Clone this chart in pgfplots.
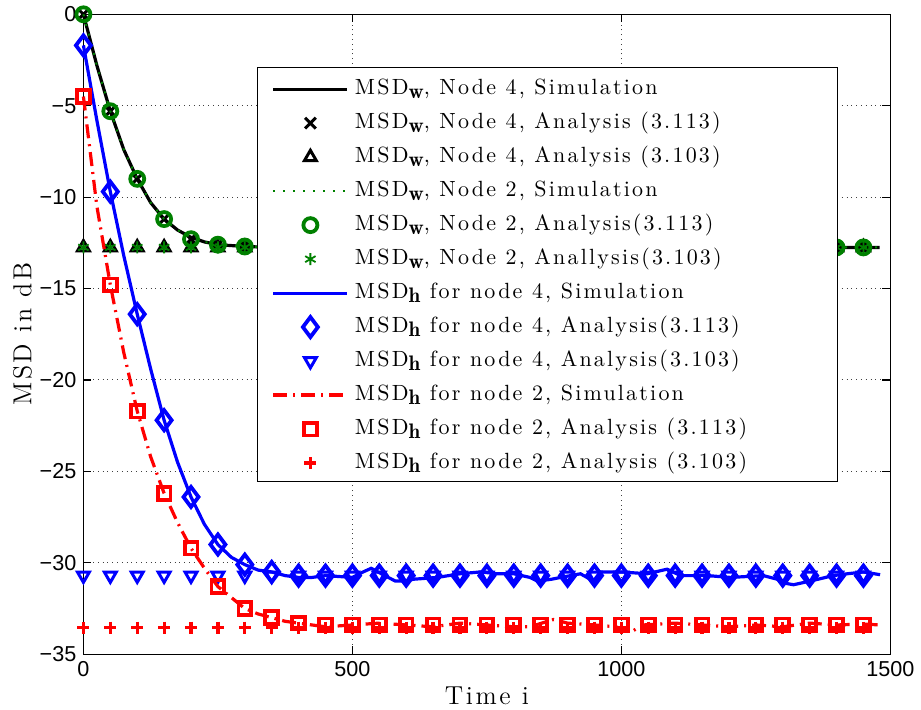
\documentclass[border=0pt]{standalone}
\usepackage{fontspec}
\usepackage{pgfplots}
\usepackage{pgfplotstable}
\pgfplotsset{compat=1.18}
\newfontfamily\tickfont{Liberation Sans}
\newfontfamily\lsfont{Latin Modern Roman}[LetterSpace=10]
\definecolor{mgreen}{rgb}{0,0.5,0}
\newcommand{\sub}[1]{\raisebox{-0.45ex}{\fontsize{10.5}{12}\selectfont$\mathbf{#1}$}}
\newcommand{\leg}[1]{\makebox[200pt][l]{\lsfont\fontsize{11}{13}\selectfont #1}}
\pgfplotsset{longleg/.style={legend image code/.code={\draw[mark repeat=2,mark phase=2,##1] plot coordinates {(0pt,0pt) (18.5pt,0pt) (37pt,0pt)};}}}

\pgfplotstableread{
x w wc h4 h4c h2 h2c
0 0 -12.75 -1.7 -30.7 -4.5 -33.55
50 -5.3 -12.75 -9.7 -30.7 -14.8 -33.55
100 -9.0 -12.75 -16.4 -30.7 -21.7 -33.55
150 -11.2 -12.75 -22.2 -30.7 -26.2 -33.55
200 -12.3 -12.75 -26.4 -30.7 -29.2 -33.55
250 -12.6 -12.75 -29.0 -30.7 -31.3 -33.55
300 -12.7 -12.75 -30.1 -30.7 -32.5 -33.55
350 -12.75 -12.75 -30.5 -30.7 -33.0 -33.55
400 -12.75 -12.75 -30.7 -30.7 -33.3 -33.55
450 -12.75 -12.75 -30.7 -30.7 -33.4 -33.55
500 -12.75 -12.75 -30.7 -30.7 -33.4 -33.55
550 -12.75 -12.75 -30.7 -30.7 -33.4 -33.55
600 -12.75 -12.75 -30.7 -30.7 -33.4 -33.55
650 -12.75 -12.75 -30.7 -30.7 -33.4 -33.55
700 -12.75 -12.75 -30.7 -30.7 -33.4 -33.55
750 -12.75 -12.75 -30.7 -30.7 -33.4 -33.55
800 -12.75 -12.75 -30.7 -30.7 -33.4 -33.55
850 -12.75 -12.75 -30.7 -30.7 -33.4 -33.55
900 -12.75 -12.75 -30.7 -30.7 -33.4 -33.55
950 -12.75 -12.75 -30.7 -30.7 -33.4 -33.55
1000 -12.75 -12.75 -30.7 -30.7 -33.4 -33.55
1050 -12.75 -12.75 -30.7 -30.7 -33.4 -33.55
1100 -12.75 -12.75 -30.7 -30.7 -33.4 -33.55
1150 -12.75 -12.75 -30.7 -30.7 -33.4 -33.55
1200 -12.75 -12.75 -30.7 -30.7 -33.4 -33.55
1250 -12.75 -12.75 -30.7 -30.7 -33.4 -33.55
1300 -12.75 -12.75 -30.7 -30.7 -33.4 -33.55
1350 -12.75 -12.75 -30.7 -30.7 -33.4 -33.55
1400 -12.75 -12.75 -30.7 -30.7 -33.4 -33.55
1450 -12.75 -12.75 -30.7 -30.7 -33.4 -33.55
}\marktab

\pgfplotstableread{
x y
0 0
25 -2.8
50 -5.3
75 -7.4
100 -9.0
125 -10.3
150 -11.2
175 -11.8
200 -12.2
225 -12.45
250 -12.6
275 -12.65
300 -12.7
350 -12.75
500 -12.75
700 -12.75
900 -12.75
1100 -12.75
1300 -12.75
1480 -12.75
}\wsim

\pgfplotstableread{
x y
0 -1.7
25 -5.8
50 -9.7
75 -13.2
100 -16.4
125 -19.4
150 -22.2
175 -24.5
200 -26.4
225 -27.9
250 -29.0
275 -29.7
300 -30.1
325 -30.4
350 -30.5
375 -30.7
400 -30.8
425 -30.8
450 -30.7
475 -30.75
500 -30.8
520 -30.5
535 -30.3
560 -30.7
580 -31.0
600 -31.0
613 -30.9
658 -30.8
700 -30.6
738 -30.5
770 -30.6
800 -30.6
830 -30.8
844 -31.0
870 -30.9
887 -30.8
924 -30.6
948 -31.0
961 -30.5
1000 -30.5
1048 -30.6
1085 -30.35
1110 -30.7
1160 -30.7
1203 -30.8
1264 -30.7
1290 -30.9
1301 -31.1
1320 -31.2
1351 -31.0
1394 -30.7
1420 -30.6
1450 -30.5
1481 -30.65
}\hfour

\pgfplotstableread{
x y
0 -4.5
25 -10.5
50 -14.8
75 -18.5
100 -21.7
125 -24.2
150 -26.2
175 -27.8
200 -29.2
225 -30.3
250 -31.3
275 -31.9
300 -32.5
325 -32.8
350 -33.0
375 -33.2
400 -33.3
450 -33.5
500 -33.4
550 -33.3
600 -33.4
650 -33.5
700 -33.3
750 -33.4
800 -33.5
830 -33.5
874 -33.1
900 -33.3
950 -33.4
990 -33.5
1017 -33.8
1040 -33.4
1100 -33.3
1150 -33.4
1200 -33.5
1250 -33.4
1300 -33.5
1350 -33.3
1400 -33.4
1450 -33.35
1481 -33.4
}\htwo

\begin{document}
\begin{tikzpicture}
\begin{axis}[
  scale only axis, width=403.5pt, height=320pt,
  xmin=0, xmax=1500, ymin=-35, ymax=0,
  clip=false, clip marker paths=true,
  xtick={0,500,1000,1500}, xticklabels={0,500,1000,1500},
  ytick={-35,-30,-25,-20,-15,-10,-5,0},
  yticklabels={−35,−30,−25,−20,−15,−10,−5,0},
  tick align=inside, major tick length=4pt,
  grid=major, grid style={dotted, black!75, line width=0.5pt},
  axis line style={line width=0.7pt},
  tick style={line width=0.6pt, black},
  ticklabel style={font=\tickfont\fontsize{10.8}{12}\selectfont},
  xlabel={Time i}, ylabel={MSD in dB},
  label style={font=\lsfont\fontsize{13}{15}\selectfont},
  xlabel style={at={(axis description cs:0.5,-0.0656)}, anchor=center, inner ysep=2pt},
  ylabel style={at={(axis description cs:-0.0756,0.5)}, anchor=center, inner ysep=6.5pt},
  legend cell align=left,
  legend style={at={(0.2156,0.9165)}, anchor=north west, draw=none, fill=none,
    inner xsep=7pt, inner ysep=2pt,
    nodes={text height=8pt, text depth=3pt, inner ysep=3pt, inner xsep=3pt}},
]
\addplot[black, line width=1.6pt, longleg] table[x=x,y=y] {\wsim};
\addlegendentry{\leg{MSD\sub{w}, Node 4, Simulation}}
\addplot[black, only marks, mark=x, mark size=3.8pt, line width=1.5pt, longleg] table[x=x,y=w] {\marktab};
\addlegendentry{\leg{MSD\sub{w}, Node 4, Analysis (3.113)}}
\addplot[black, only marks, mark=triangle, mark size=3.4pt, line width=1.5pt, longleg] table[x=x,y=wc] {\marktab};
\addlegendentry{\leg{MSD\sub{w}, Node 4, Analysis (3.103)}}
\addplot[mgreen, line width=1pt, dash pattern=on 1pt off 4pt, longleg] table[x=x,y=y] {\wsim};
\addlegendentry{\leg{MSD\sub{w}, Node 2, Simulation}}
\addplot[mgreen, only marks, mark=o, mark size=3.5pt, line width=1.9pt, longleg] table[x=x,y=w] {\marktab};
\addlegendentry{\leg{MSD\sub{w}, Node 2, Analysis(3.113)}}
\addplot[mgreen, only marks, mark=asterisk, mark size=3pt, line width=0.9pt, longleg] table[x=x,y=wc] {\marktab};
\addlegendentry{\leg{MSD\sub{w}, Node 2, Anallysis(3.103)}}
\addplot[blue, line width=1.6pt, longleg] table[x=x,y=y] {\hfour};
\addlegendentry{\leg{MSD\sub{h} for node 4, Simulation}}
\addplot[blue, only marks, mark=diamond, mark size=5pt, line width=1.9pt, longleg] table[x=x,y=h4] {\marktab};
\addlegendentry{\leg{MSD\sub{h} for node 4, Analysis(3.113)}}
\addplot[blue, only marks, mark=triangle, mark options={rotate=180}, mark size=3.4pt, line width=1.5pt, longleg] table[x=x,y=h4c] {\marktab};
\addlegendentry{\leg{MSD\sub{h} for node 4, Analysis(3.103)}}
\addplot[red, line width=1.6pt, dash pattern=on 7pt off 3pt on 1pt off 3pt, longleg] table[x=x,y=y] {\htwo};
\addlegendentry{\leg{MSD\sub{h} for node 2, Simulation}}
\addplot[red, only marks, mark=square, mark size=3.2pt, line width=1.9pt, longleg] table[x=x,y=h2] {\marktab};
\addlegendentry{\leg{MSD\sub{h} for node 2, Analysis (3.113)}}
\addplot[red, only marks, mark=+, mark size=3pt, line width=1.6pt, longleg] table[x=x,y=h2c] {\marktab};
\addlegendentry{\leg{MSD\sub{h} for node 2, Analysis (3.103)}}
\draw[black, line width=0.7pt, fill=white] (axis description cs:0.2156,0.9172) rectangle (axis description cs:0.9343,0.2703);
\end{axis}
\end{tikzpicture}
\end{document}
